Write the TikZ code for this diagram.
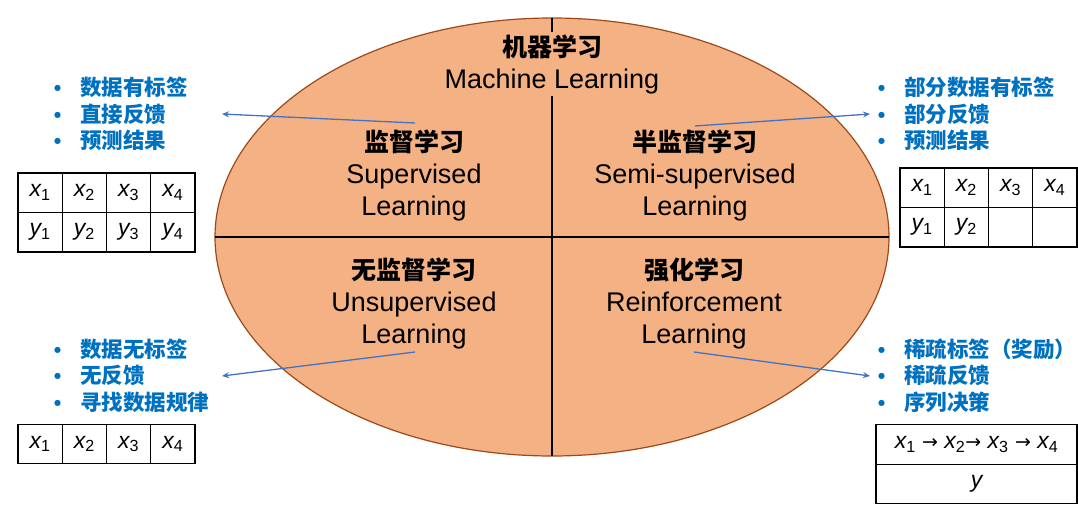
\documentclass[tikz,border=0pt]{standalone}
\usepackage{fontspec}
\setmainfont{Liberation Sans}
\newfontfamily\cjk{Noto Sans CJK SC}
\newfontfamily\djv{DejaVu Sans}
\usetikzlibrary{arrows.meta}
\definecolor{mlfill}{HTML}{F4B183}
\definecolor{mledge}{HTML}{9C4A1A}
\definecolor{mlblue}{HTML}{0070C0}
\definecolor{arrblue}{HTML}{4472C4}
\newcommand{\xs}[2]{{\itshape #1}\textsubscript{#2}}
\tikzset{
  quad/.style={align=center, inner sep=0pt, font=\fontsize{27}{32}\selectfont},
  bul/.style={anchor=west, inner sep=0pt, text=mlblue, font=\fontsize{21.5}{24}\selectfont\cjk\bfseries},
  cell/.style={draw=black, line width=1.2pt, minimum width=44.25pt, minimum height=39.5pt, inner sep=0pt, font=\fontsize{23}{26}\selectfont},
  conn/.style={draw=arrblue, line width=1.3pt, -{Stealth[length=7pt,width=6pt]}}
}
\newcommand{\bitem}[1]{\makebox[26pt][l]{\djv\fontsize{8}{10}\selectfont\raisebox{4.5pt}{●}}#1}
\begin{document}
\begin{tikzpicture}[x=1pt,y=-1pt]
\useasboundingbox (0,0) rectangle (1078,513);
% ellipse
\draw[fill=mlfill, draw=mledge, line width=1.2pt] (552,237) ellipse [x radius=337, y radius=219];
\draw[line width=1.5pt] (215,237) -- (889,237);
\draw[line width=2pt] (552,18) -- (552,456);
\node[fill=mlfill, align=center, inner sep=2pt, font=\fontsize{27}{32}\selectfont] (title) at (552,64)
  {{\cjk\bfseries\fontsize{25}{32}\selectfont 机器学习}\\Machine Learning};
% quadrants
\node[quad] (q1) at (414,175) {{\cjk\bfseries\fontsize{25}{32}\selectfont 监督学习}\\Supervised\\Learning};
\node[quad] (q2) at (695,175) {{\cjk\bfseries\fontsize{25}{32}\selectfont 半监督学习}\\Semi-supervised\\Learning};
\node[quad] (q3) at (414,303) {{\cjk\bfseries\fontsize{25}{32}\selectfont 无监督学习}\\Unsupervised\\Learning};
\node[quad] (q4) at (694,303) {{\cjk\bfseries\fontsize{25}{32}\selectfont 强化学习}\\Reinforcement\\Learning};
% bullet lists
\node[bul] (a1) at (54,87) {\bitem{数据有标签}};
\node[bul] (a2) at (54,114) {\bitem{直接反馈}};
\node[bul] (a3) at (54,140) {\bitem{预测结果}};
\node[bul] (b1) at (878,87) {\bitem{部分数据有标签}};
\node[bul] (b2) at (878,114) {\bitem{部分反馈}};
\node[bul] (b3) at (878,140) {\bitem{预测结果}};
\node[bul] (c1) at (54,349) {\bitem{数据无标签}};
\node[bul] (c2) at (54,375) {\bitem{无反馈}};
\node[bul] (c3) at (54,402) {\bitem{寻找数据规律}};
\node[bul] (d1) at (878,349) {\bitem{稀疏标签（奖励）}};
\node[bul] (d2) at (878,375) {\bitem{稀疏反馈}};
\node[bul] (d3) at (878,402) {\bitem{序列决策}};
% connectors
\coordinate (s1) at (415,123);
\coordinate (s2) at (695,126);
\coordinate (s3) at (415,352);
\coordinate (s4) at (694,352);
\coordinate (e1) at (222,114);
\coordinate (e2) at (870,114);
\coordinate (e3) at (222,376);
\coordinate (e4) at (870,376);
\draw[conn] (s1) -- (e1);
\draw[conn] (s2) -- (e2);
\draw[conn] (s3) -- (e3);
\draw[conn] (s4) -- (e4);
% table top-left
\foreach \i in {1,2,3,4}{
  \node[cell] (tl-x\i) at ({18+44.25*(\i-0.5)},192.75) {\xs{x}{\i}};
  \node[cell] (tl-y\i) at ({18+44.25*(\i-0.5)},232.25) {\xs{y}{\i}};
}
% table top-right
\foreach \i in {1,2,3,4}{
  \node[cell] (tr-x\i) at ({900+44.25*(\i-0.5)},187.75) {\xs{x}{\i}};
}
\node[cell] (tr-y1) at ({900+44.25*0.5},227.25) {\xs{y}{1}};
\node[cell] (tr-y2) at ({900+44.25*1.5},227.25) {\xs{y}{2}};
\node[cell] (tr-y3) at ({900+44.25*2.5},227.25) {};
\node[cell] (tr-y4) at ({900+44.25*3.5},227.25) {};
% table bottom-left
\foreach \i in {1,2,3,4}{
  \node[cell] (bl-x\i) at ({18+44.25*(\i-0.5)},444) {\xs{x}{\i}};
}
% table bottom-right
\node[cell, minimum width=201pt] (br-x) at (976.5,444.5)
  {\xs{x}{1} {\djv\fontsize{19}{20}\selectfont →} \xs{x}{2}{\djv\fontsize{19}{20}\selectfont →} \xs{x}{3} {\djv\fontsize{19}{20}\selectfont →} \xs{x}{4}};
\node[cell, minimum width=201pt] (br-y) at (976.5,484) {{\itshape y}};
\end{tikzpicture}
\end{document}
